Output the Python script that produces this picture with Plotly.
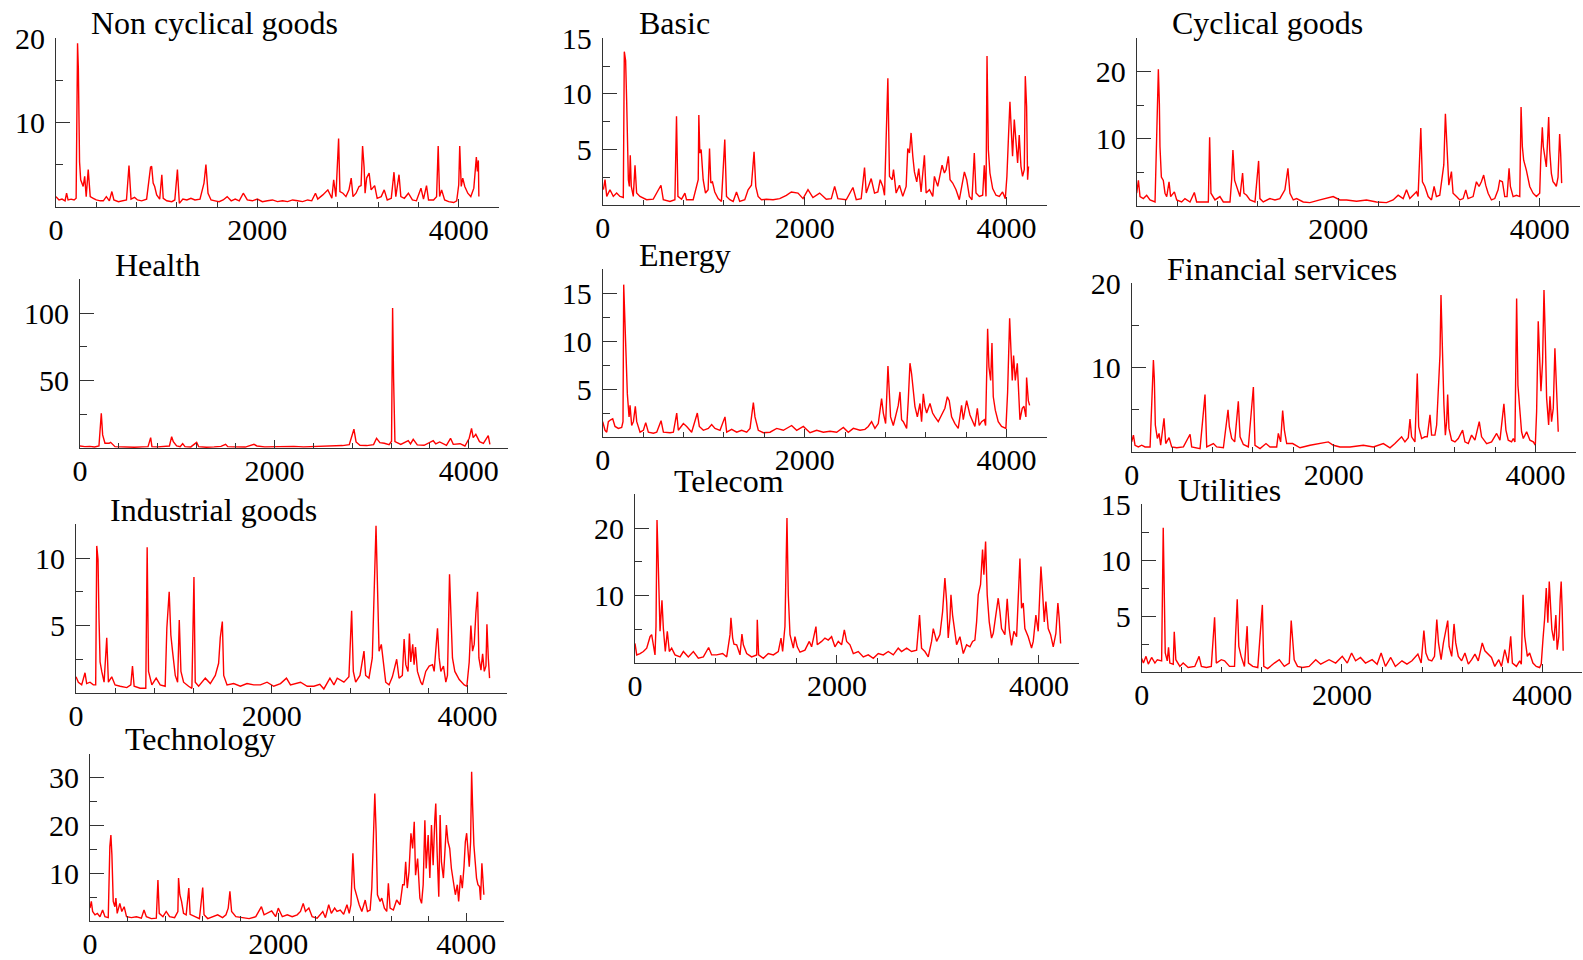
import plotly.graph_objects as go

# ---------------- data (index, value) ----------------
titles = ["Non cyclical goods", "Basic", "Cyclical goods", "Health", "Energy",
          "Financial services", "Industrial goods", "Telecom", "Utilities", "Technology"]

noncyc = [(0,1.2),(30,0.8),(60,0.9),(90,0.7),(105,1.6),(120,0.8),(150,0.9),(180,0.8),(200,1.0),(210,12),(214,19.4),(222,16.4),(228,8.3),(234,5.3),(245,3.2),(270,2.4),(285,3.6),(300,1.2),(320,4.4),(340,1.2),(370,1.0),(400,0.8),(440,0.7),(470,0.7),(500,1.2),(530,0.7),(555,1.8),(575,0.8),(620,0.6),(660,0.7),(700,0.8),(725,4.9),(745,0.9),(780,1.1),(810,0.8),(850,0.7),(900,0.9),(939,4.7),(950,4.8),(965,2.8),(980,2.4),(1000,1.4),(1030,0.9),(1051,3.8),(1065,1.0),(1100,0.7),(1150,0.6),(1180,0.8),(1206,4.4),(1225,0.4),(1260,0.9),(1300,0.8),(1340,1.0),(1380,0.8),(1430,0.9),(1470,2.8),(1489,5.0),(1510,1.6),(1540,0.8),(1580,0.7),(1620,0.6),(1660,0.8),(1700,1.2),(1740,0.7),(1780,0.9),(1820,0.7),(1860,1.6),(1900,0.8),(1950,0.7),(2000,0.9),(2050,0.6),(2100,0.7),(2150,0.8),(2200,0.6),(2250,0.7),(2300,0.6),(2350,0.8),(2400,0.7),(2450,0.6),(2500,0.8),(2540,0.7),(2577,1.6),(2600,0.9),(2650,1.4),(2700,2.0),(2740,1.0),(2758,3.2),(2780,1.2),(2807,8.1),(2820,1.8),(2850,1.6),(2880,1.2),(2910,2.0),(2932,3.4),(2950,1.2),(2980,1.6),(3010,2.4),(3030,2.5),(3045,7.2),(3060,4.7),(3070,1.6),(3085,3.4),(3110,4.0),(3130,2.0),(3165,2.5),(3190,1.0),(3230,1.2),(3260,2.0),(3290,0.8),(3330,1.0),(3357,4.1),(3375,1.2),(3407,3.8),(3425,1.2),(3460,1.0),(3500,1.6),(3540,0.8),(3580,0.7),(3625,2.2),(3650,0.9),(3680,2.5),(3700,0.8),(3750,0.8),(3780,1.2),(3796,7.2),(3810,1.2),(3830,2.0),(3860,0.8),(3900,0.6),(3950,0.5),(3980,0.7),(4000,2.6),(4010,7.2),(4025,2.4),(4040,3.4),(4060,2.4),(4090,1.6),(4120,1.2),(4150,2.2),(4175,5.9),(4185,4.2),(4195,5.5),(4200,1.2)]

basic = [(7,1.4),(23,2.3),(40,0.8),(72,1.4),(105,0.8),(138,1.1),(171,0.8),(204,0.7),(214,13.8),(227,13.0),(237,9.5),(244,5.0),(254,2.3),(264,1.7),(273,4.5),(283,1.7),(303,0.8),(320,3.6),(336,1.1),(369,0.8),(435,0.5),(501,0.55),(577,1.8),(600,0.5),(666,0.35),(715,0.5),(731,8.0),(745,0.8),(781,0.55),(814,1.1),(830,0.5),(896,0.5),(946,2.3),(952,8.1),(962,4.7),(975,5.0),(995,2.3),(1018,1.1),(1044,1.4),(1058,5.1),(1071,2.0),(1087,2.1),(1110,1.2),(1143,0.6),(1176,0.35),(1209,5.9),(1226,0.8),(1259,0.5),(1292,0.35),(1325,1.2),(1357,0.35),(1407,0.5),(1440,1.4),(1473,1.8),(1499,4.8),(1516,1.7),(1539,0.8),(1572,0.5),(1621,0.55),(1687,0.5),(1753,0.6),(1819,0.9),(1868,1.2),(1934,1.1),(1984,0.6),(2033,1.4),(2082,0.7),(2148,1.1),(2214,0.55),(2264,0.6),(2297,1.7),(2329,0.6),(2412,0.5),(2478,1.6),(2511,0.5),(2560,0.6),(2593,3.4),(2610,1.1),(2659,2.4),(2692,1.1),(2725,1.2),(2748,2.3),(2774,1.7),(2791,0.9),(2824,11.4),(2840,2.6),(2867,2.3),(2880,3.2),(2906,1.1),(2939,1.8),(2972,0.8),(3005,1.7),(3021,5.1),(3038,4.7),(3054,6.5),(3071,4.4),(3087,3.0),(3110,2.1),(3130,3.3),(3153,1.2),(3186,4.5),(3203,1.1),(3236,1.4),(3269,0.8),(3285,2.6),(3318,1.7),(3361,3.6),(3384,2.9),(3400,3.2),(3423,4.4),(3440,2.3),(3466,2.0),(3499,1.4),(3532,0.5),(3559,1.7),(3582,3.0),(3605,2.3),(3631,0.8),(3657,0.5),(3680,4.7),(3697,1.1),(3730,0.8),(3763,0.9),(3779,3.6),(3796,0.8),(3806,13.4),(3819,5.0),(3835,2.9),(3862,1.5),(3895,0.9),(3928,0.8),(3960,1.2),(3987,0.6),(4003,2.6),(4020,6.5),(4033,9.3),(4046,6.8),(4059,4.4),(4076,7.7),(4092,5.9),(4109,3.8),(4125,6.3),(4142,3.5),(4158,2.6),(4175,3.2),(4185,11.6),(4198,8.9),(4208,2.3),(4217,3.5)]

cyclical = [(0,1.9),(17,3.8),(33,1.4),(66,1.1),(99,1.6),(132,0.9),(182,0.6),(205,15.7),(215,20.3),(225,15.2),(231,8.8),(245,4.3),(264,3.8),(281,1.9),(298,1.4),(321,3.6),(337,1.4),(374,2.1),(397,0.9),(446,0.6),(479,1.1),(529,0.6),(572,2.0),(595,0.6),(661,0.6),(711,0.6),(724,10.2),(737,1.9),(777,0.9),(826,1.4),(860,0.6),(926,0.6),(942,3.8),(955,8.3),(972,3.8),(992,2.9),(1025,1.4),(1051,4.9),(1064,1.9),(1091,1.6),(1124,0.9),(1174,0.6),(1210,6.7),(1223,1.1),(1256,0.6),(1322,1.1),(1372,0.9),(1421,1.1),(1471,2.4),(1501,5.6),(1521,1.9),(1554,0.9),(1587,1.1),(1653,0.6),(1719,0.5),(1818,0.9),(1884,1.1),(1950,1.4),(2017,0.9),(2083,0.9),(2182,0.7),(2281,0.9),(2380,0.6),(2479,0.5),(2545,0.9),(2595,1.6),(2645,1.1),(2678,2.4),(2711,1.1),(2777,2.1),(2793,1.4),(2820,11.6),(2836,3.6),(2860,2.9),(2893,1.4),(2926,0.9),(2952,2.9),(2975,1.4),(3008,1.6),(3035,5.1),(3048,6.1),(3064,13.7),(3081,7.3),(3098,3.1),(3124,5.1),(3140,1.9),(3174,1.4),(3207,0.9),(3240,1.1),(3266,2.4),(3289,1.1),(3339,1.4),(3372,3.6),(3398,2.9),(3421,3.6),(3444,4.6),(3464,3.1),(3488,1.9),(3521,0.9),(3554,1.1),(3587,2.4),(3603,3.8),(3630,3.6),(3653,1.4),(3676,1.4),(3696,5.6),(3709,2.9),(3736,1.4),(3769,1.6),(3802,1.4),(3815,14.7),(3828,8.8),(3841,6.8),(3868,5.3),(3901,2.9),(3934,1.9),(3967,1.4),(3983,1.6),(4000,1.9),(4010,6.8),(4026,11.7),(4036,8.8),(4050,7.3),(4066,5.8),(4089,13.2),(4099,8.3),(4116,4.8),(4132,3.6),(4149,3.3),(4165,2.9),(4182,4.3),(4198,10.7),(4208,7.8),(4218,3.4)]

health = [(0,1.5),(50,1.0),(100,1.2),(150,0.8),(195,1.5),(205,11),(219,25.7),(233,9.7),(257,3.5),(300,3.5),(315,4.2),(360,1.0),(420,0.8),(500,1.0),(560,0.6),(640,0.8),(700,1.0),(727,7.7),(740,1.0),(800,0.8),(860,1.2),(920,1.5),(943,8.4),(960,4.7),(994,1.5),(1030,1.0),(1056,3.2),(1080,1.0),(1140,0.8),(1200,4.2),(1220,1.0),(1300,0.6),(1380,0.8),(1450,1.2),(1498,2.7),(1520,1.0),(1600,0.8),(1700,0.7),(1790,2.7),(1820,1.5),(1900,0.8),(2000,1.0),(2100,0.7),(2200,1.2),(2300,0.8),(2400,1.0),(2500,0.9),(2600,1.5),(2700,1.8),(2770,2.5),(2795,7.9),(2818,13.9),(2840,4.5),(2880,2.0),(2950,1.8),(3020,2.5),(3051,7.2),(3085,4.0),(3130,3.5),(3180,2.5),(3205,5.0),(3216,103.7),(3226,51.7),(3240,4.7),(3300,2.7),(3377,5.4),(3400,3.0),(3428,6.4),(3470,2.3),(3540,2.0),(3634,5.4),(3660,3.0),(3700,4.5),(3770,2.0),(3812,7.2),(3840,2.7),(3910,3.2),(3960,1.5),(4004,7.2),(4028,14.6),(4045,7.7),(4072,10.1),(4110,4.7),(4150,3.5),(4200,9.2),(4217,2.7)]

energy = [(0,1.6),(23,0.7),(40,0.5),(56,1.6),(79,1.8),(99,1.9),(122,1.1),(155,0.9),(188,1.0),(201,1.6),(208,15.9),(221,11.9),(231,9.1),(244,4.5),(261,2.1),(271,3.3),(287,1.2),(304,1.6),(323,3.2),(337,1.6),(370,0.5),(403,0.7),(426,1.5),(452,0.5),(502,0.4),(535,0.5),(578,1.7),(601,0.5),(667,0.45),(700,0.5),(733,2.5),(749,0.7),(799,1.4),(832,1.1),(881,0.5),(937,2.5),(957,1.1),(997,0.7),(1046,0.9),(1079,1.3),(1112,0.9),(1162,0.7),(1211,2.1),(1228,0.5),(1277,0.8),(1327,0.5),(1376,0.7),(1426,0.5),(1459,0.9),(1492,3.6),(1508,2.1),(1541,0.7),(1591,0.45),(1657,0.5),(1723,0.9),(1789,0.7),(1871,1.2),(1921,0.7),(1987,1.1),(2053,0.45),(2119,0.7),(2185,0.5),(2251,0.6),(2317,0.5),(2383,1.0),(2432,0.5),(2482,0.9),(2548,0.7),(2597,0.8),(2630,1.1),(2663,1.6),(2696,0.9),(2729,1.4),(2746,2.5),(2762,4.0),(2779,2.5),(2802,1.4),(2825,7.4),(2838,3.8),(2851,2.1),(2878,1.2),(2904,2.5),(2927,3.3),(2944,4.7),(2960,1.8),(2977,1.6),(3010,0.9),(3026,3.8),(3043,7.7),(3059,6.6),(3076,4.5),(3092,3.2),(3116,2.1),(3142,3.5),(3158,1.6),(3175,4.5),(3191,3.2),(3208,2.5),(3241,3.5),(3267,2.5),(3290,2.1),(3323,1.6),(3356,2.3),(3389,3.0),(3413,4.2),(3432,3.8),(3455,2.1),(3488,1.4),(3521,0.9),(3554,3.3),(3571,1.8),(3604,3.8),(3637,2.3),(3670,1.4),(3686,1.1),(3710,3.0),(3729,1.2),(3752,1.6),(3779,1.8),(3792,1.2),(3812,11.3),(3825,7.3),(3842,5.9),(3855,9.8),(3868,4.2),(3888,2.8),(3917,1.6),(3950,1.1),(3993,0.9),(4010,4.7),(4023,10.1),(4030,12.4),(4043,9.1),(4056,5.9),(4069,8.5),(4086,5.9),(4106,7.7),(4122,3.8),(4132,1.8),(4155,3.0),(4172,3.2),(4191,2.1),(4198,6.2),(4215,3.8),(4228,3.3)]

financial = [(0,1.2),(17,2.0),(33,0.8),(66,0.6),(99,0.8),(132,0.6),(182,0.6),(215,10.9),(224,8.7),(234,3.2),(254,1.6),(271,2.2),(287,0.8),(320,4.0),(337,1.0),(370,1.7),(396,0.6),(446,0.5),(512,0.6),(578,2.1),(594,0.6),(677,0.4),(726,6.8),(743,0.6),(809,1.0),(842,0.6),(908,0.5),(941,4.0),(954,5.0),(967,3.0),(990,1.6),(1020,1.2),(1056,6.0),(1073,1.8),(1106,0.9),(1155,0.6),(1205,7.7),(1221,0.8),(1271,0.4),(1330,1.0),(1370,0.6),(1436,0.6),(1452,2.2),(1475,1.2),(1495,4.9),(1512,2.6),(1535,1.0),(1594,1.0),(1667,0.5),(1766,0.8),(1865,1.0),(1947,1.2),(1997,0.8),(2063,0.6),(2162,0.6),(2294,0.8),(2393,0.6),(2492,1.0),(2558,0.5),(2607,1.0),(2673,1.8),(2706,1.2),(2739,1.7),(2756,3.9),(2772,1.8),(2805,1.2),(2828,9.3),(2842,3.0),(2871,1.6),(2904,1.8),(2927,1.8),(2954,4.4),(2970,2.0),(3003,2.0),(3020,3.2),(3036,7.5),(3053,11.5),(3063,18.6),(3076,11.5),(3092,5.6),(3106,2.0),(3119,3.6),(3129,6.8),(3142,2.8),(3168,1.4),(3201,1.2),(3234,1.6),(3277,2.6),(3300,1.2),(3333,1.0),(3366,2.0),(3399,1.4),(3442,3.6),(3465,1.8),(3515,1.0),(3564,1.2),(3614,2.2),(3647,1.4),(3686,5.7),(3706,2.6),(3729,1.4),(3762,1.2),(3779,1.6),(3795,1.2),(3812,18.2),(3825,7.9),(3845,4.8),(3861,2.4),(3878,1.6),(3911,2.4),(3944,1.4),(3977,1.2),(3997,0.8),(4010,4.8),(4026,15.5),(4040,11.5),(4053,7.2),(4069,10.7),(4083,19.2),(4096,13.5),(4109,6.4),(4129,3.2),(4142,6.6),(4158,3.6),(4175,5.2),(4191,12.3),(4201,8.7),(4215,5.2),(4224,2.4)]

industrial = [(0,1.2),(24,0.8),(58,0.6),(92,1.5),(109,0.7),(143,0.8),(177,0.6),(201,0.6),(212,10.9),(225,9.9),(235,5.5),(246,2.3),(263,1.6),(287,0.8),(314,4.1),(331,0.8),(365,1.2),(399,0.6),(451,0.5),(519,0.4),(560,0.6),(577,2.0),(594,0.5),(655,0.35),(713,0.35),(727,10.8),(741,1.6),(775,0.6),(819,1.1),(860,0.6),(911,0.5),(928,4.8),(952,7.5),(969,4.3),(986,3.1),(1014,1.3),(1038,0.8),(1055,5.4),(1072,1.6),(1099,0.8),(1150,0.5),(1184,0.35),(1205,8.6),(1218,0.8),(1253,0.5),(1321,1.1),(1372,0.7),(1423,1.3),(1457,2.2),(1474,4.1),(1495,5.3),(1509,1.3),(1543,0.6),(1611,0.7),(1679,0.5),(1747,0.7),(1816,0.6),(1884,0.6),(1952,0.8),(2020,0.5),(2089,0.7),(2150,1.1),(2191,0.6),(2294,0.8),(2362,0.5),(2430,0.5),(2491,0.65),(2532,0.3),(2594,1.1),(2635,0.6),(2669,1.1),(2737,0.8),(2788,1.2),(2816,6.1),(2833,1.6),(2857,0.8),(2901,1.3),(2942,3.1),(2959,1.3),(2993,1.1),(3027,2.6),(3044,6.9),(3065,12.4),(3078,8.5),(3096,3.1),(3119,3.6),(3140,2.3),(3164,0.8),(3198,0.6),(3232,1.2),(3276,2.5),(3300,1.1),(3334,1.3),(3352,4.0),(3369,2.1),(3392,1.6),(3406,4.4),(3420,2.3),(3440,3.6),(3454,2.1),(3468,3.4),(3488,1.6),(3522,0.8),(3539,0.6),(3573,1.6),(3608,2.0),(3642,2.1),(3659,1.6),(3693,4.8),(3710,2.6),(3727,1.6),(3754,2.0),(3778,0.8),(3795,1.3),(3816,8.8),(3829,5.5),(3846,2.6),(3870,1.6),(3915,1.0),(3966,0.6),(3993,0.5),(4017,2.3),(4034,5.0),(4051,3.1),(4068,3.6),(4085,5.9),(4102,7.5),(4116,2.6),(4137,1.7),(4154,2.9),(4171,1.6),(4188,2.0),(4198,5.1),(4212,2.6),(4225,1.1)]

telecom = [(0,2.9),(17,1.2),(50,1.4),(83,1.7),(116,2.2),(149,3.9),(165,4.2),(182,2.7),(198,1.2),(208,5.4),(218,21.2),(228,16.0),(238,9.1),(248,4.7),(267,9.3),(281,5.1),(300,1.7),(320,4.7),(340,1.7),(363,2.2),(396,1.2),(446,0.9),(479,1.7),(528,0.9),(578,1.7),(627,0.7),(677,0.9),(729,2.3),(759,1.2),(809,1.2),(868,1.4),(908,0.9),(941,4.2),(950,6.7),(967,3.7),(980,2.8),(1007,2.7),(1040,1.2),(1059,4.3),(1073,2.7),(1106,1.4),(1155,0.9),(1205,1.2),(1211,6.4),(1224,1.2),(1271,0.7),(1320,1.4),(1370,1.2),(1419,1.7),(1446,3.7),(1462,1.7),(1485,5.4),(1505,21.5),(1518,10.1),(1535,4.2),(1568,2.2),(1584,3.9),(1607,2.4),(1634,1.6),(1683,1.9),(1726,3.2),(1749,2.4),(1792,5.4),(1805,2.7),(1848,3.2),(1881,3.7),(1914,3.4),(1947,3.9),(1980,2.4),(2013,3.2),(2046,2.7),(2073,4.9),(2096,3.2),(2129,2.7),(2162,1.4),(2211,1.7),(2261,0.9),(2310,1.2),(2360,0.7),(2409,1.4),(2459,1.2),(2508,1.7),(2558,1.2),(2607,2.2),(2640,1.7),(2690,2.2),(2739,1.7),(2789,1.9),(2818,7.1),(2838,2.2),(2871,1.7),(2904,0.9),(2937,3.2),(2954,5.1),(2987,3.2),(3020,4.2),(3046,7.6),(3069,12.6),(3086,9.1),(3102,3.7),(3119,6.6),(3129,10.1),(3145,7.1),(3168,4.2),(3185,2.7),(3218,3.9),(3251,1.4),(3284,2.7),(3317,2.4),(3343,3.2),(3366,3.4),(3383,6.1),(3399,10.1),(3422,11.6),(3442,16.8),(3455,13.1),(3472,18.0),(3488,10.1),(3508,6.1),(3531,3.7),(3548,4.4),(3581,7.9),(3597,9.6),(3614,7.6),(3630,5.1),(3663,4.2),(3686,9.5),(3706,5.1),(3729,2.6),(3752,4.7),(3779,3.9),(3812,15.5),(3828,8.1),(3845,8.9),(3861,5.1),(3894,3.9),(3927,2.2),(3944,3.2),(3970,7.1),(3993,4.7),(4020,14.3),(4036,10.6),(4053,6.1),(4069,9.1),(4092,5.1),(4116,4.2),(4142,2.4),(4168,4.4),(4188,8.9),(4201,6.6),(4215,2.9)]

utilities = [(0,1.2),(17,0.8),(43,1.4),(66,0.7),(99,1.3),(132,0.8),(156,1.1),(199,1.0),(215,12.9),(225,6.5),(235,1.7),(255,1.0),(268,2.2),(281,0.8),(315,0.7),(325,3.6),(341,1.1),(381,0.5),(414,0.8),(464,0.4),(530,0.5),(573,1.4),(596,0.5),(646,0.4),(695,0.5),(728,4.9),(745,0.8),(795,1.1),(828,1.0),(877,0.5),(927,0.5),(937,3.1),(954,6.5),(970,2.3),(993,1.4),(1026,0.5),(1053,4.1),(1066,0.8),(1109,0.5),(1159,0.4),(1205,6.0),(1219,0.5),(1258,0.3),(1325,0.8),(1374,1.1),(1424,0.5),(1474,0.8),(1493,4.6),(1507,2.6),(1523,1.1),(1556,0.5),(1606,0.4),(1672,0.5),(1738,1.1),(1788,0.7),(1871,1.1),(1937,0.8),(2003,1.4),(2053,0.8),(2096,1.7),(2136,1.0),(2185,1.3),(2235,0.8),(2301,1.1),(2351,0.7),(2391,1.7),(2434,0.5),(2487,1.3),(2533,0.5),(2599,1.0),(2649,0.7),(2699,1.0),(2758,1.6),(2791,0.8),(2818,3.7),(2838,1.7),(2864,1.1),(2897,1.0),(2924,1.4),(2947,4.7),(2964,2.6),(2990,1.1),(3013,2.6),(3036,3.8),(3056,4.6),(3070,2.3),(3096,1.4),(3119,4.3),(3136,2.6),(3162,1.4),(3195,1.0),(3228,1.7),(3262,0.7),(3295,1.1),(3328,1.6),(3361,1.0),(3401,2.6),(3427,1.9),(3460,1.6),(3493,1.3),(3526,0.5),(3566,1.1),(3593,0.5),(3626,2.0),(3659,0.8),(3685,3.2),(3702,0.8),(3742,0.5),(3775,1.0),(3791,0.7),(3808,6.9),(3825,3.2),(3851,1.4),(3874,1.7),(3907,0.8),(3940,0.5),(3974,0.4),(3990,0.7),(4007,2.9),(4023,4.7),(4040,7.5),(4056,4.4),(4070,8.1),(4083,5.6),(4096,3.8),(4116,2.8),(4136,5.1),(4149,2.0),(4166,3.2),(4179,6.5),(4189,8.1),(4199,5.6),(4209,1.9)]

technology = [(0,2.7),(14,4.1),(28,2.0),(53,1.3),(78,1.6),(106,0.9),(134,2.3),(159,0.9),(194,0.7),(211,15.6),(222,18.0),(233,13.8),(247,4.1),(264,3.0),(275,4.8),(289,1.6),(317,3.7),(338,2.0),(363,3.0),(388,0.9),(440,0.7),(493,0.9),(546,0.6),(574,2.3),(599,0.9),(652,0.5),(705,0.6),(722,8.6),(736,1.6),(775,0.9),(810,2.0),(846,0.9),(899,0.7),(934,2.0),(941,9.0),(955,5.5),(973,4.1),(994,1.6),(1022,1.3),(1050,6.9),(1064,1.4),(1110,0.9),(1163,0.5),(1198,7.0),(1212,1.3),(1251,0.5),(1304,0.9),(1357,1.3),(1409,0.7),(1445,1.3),(1469,2.7),(1487,6.2),(1505,2.0),(1550,0.9),(1621,0.7),(1691,0.5),(1762,0.9),(1822,3.0),(1850,1.3),(1885,1.6),(1931,2.1),(1973,0.9),(2001,2.7),(2044,0.9),(2097,1.3),(2149,0.9),(2202,1.3),(2237,2.0),(2266,3.7),(2290,2.0),(2326,2.7),(2361,0.9),(2414,0.6),(2474,2.0),(2502,0.7),(2537,3.4),(2565,1.6),(2600,2.7),(2625,2.0),(2660,2.3),(2696,1.4),(2731,3.4),(2755,1.6),(2773,3.4),(2794,14.2),(2812,6.9),(2837,4.8),(2861,3.4),(2889,2.0),(2925,4.4),(2949,2.0),(2977,2.3),(2995,6.9),(3016,18.7),(3027,26.7),(3041,18.7),(3055,5.5),(3083,4.1),(3101,4.8),(3129,2.7),(3154,2.0),(3171,7.9),(3189,2.7),(3224,2.3),(3259,4.4),(3295,3.4),(3323,7.6),(3340,7.6),(3355,12.4),(3372,6.9),(3390,10.3),(3411,18.4),(3429,15.2),(3446,20.8),(3460,9.6),(3482,13.1),(3506,4.8),(3524,3.7),(3541,7.6),(3559,21.1),(3573,11.0),(3594,18.0),(3612,9.0),(3629,20.1),(3647,11.7),(3665,21.5),(3675,24.6),(3689,14.5),(3707,5.1),(3721,22.2),(3735,12.4),(3756,9.0),(3770,13.8),(3788,20.1),(3805,16.6),(3823,15.2),(3841,11.0),(3862,8.3),(3883,5.5),(3904,7.6),(3918,4.1),(3939,9.6),(3957,6.9),(3975,11.4),(3989,16.6),(4003,18.4),(4017,14.5),(4031,11.4),(4045,16.6),(4056,31.3),(4066,24.3),(4080,15.9),(4094,12.4),(4108,9.0),(4123,7.6),(4140,7.2),(4151,4.4),(4165,12.1),(4175,9.0),(4186,5.5)]

series = [noncyc, basic, cyclical, health, energy, financial, industrial, telecom, utilities, technology]
y_max = [20, 15, 25, 125, 17.5, 20, 12.5, 25, 15, 35]
y_major = [10, 5, 10, 50, 5, 10, 5, 10, 5, 10]
x_max = 4400
x_major = 2000
x_minor = 400

# ---------------- layout geometry (pixels) ----------------
W, H = 1583, 960
# left, right, top, bottom of each panel's axes
boxes = [
    (56, 499, 38.3, 206.7),
    (602.7, 1047, 38.3, 205.3),
    (1136.7, 1580, 37.7, 206),
    (80, 507.7, 279.3, 448),
    (602.7, 1047, 269.3, 437),
    (1131.7, 1576, 283.3, 452),
    (76, 506.7, 524.3, 693),
    (635, 1079.3, 494.3, 663),
    (1141.7, 1582.3, 504.3, 672),
    (90, 504, 754, 921),
]
title_pos = [
    (89, 22.8), (636.7, 22.8), (1170, 23), (113.3, 264.5), (636.7, 255),
    (1165, 268.7), (108.3, 509.5), (671.7, 480.5), (1176, 490), (123.3, 739),
]

FONT = "Liberation Serif"
AXC = "#333333"

fig = go.Figure()
layout = dict(width=W, height=H,
              margin=dict(l=0, r=0, t=0, b=0, pad=0, autoexpand=False),
              paper_bgcolor="white", plot_bgcolor="white", showlegend=False,
              annotations=[])

for i, (data, ttl) in enumerate(zip(series, titles)):
    n = i + 1
    xs = [p[0] for p in data]
    ys = [p[1] for p in data]
    fig.add_trace(go.Scatter(x=xs, y=ys, mode="lines",
                             line=dict(color="#ff0000", width=1.4),
                             xaxis=f"x{n}", yaxis=f"y{n}", hoverinfo="skip"))
    l, r, t, b = boxes[i]
    layout[f"xaxis{n}"] = dict(
        domain=[l / W, r / W], range=[0, x_max], anchor=f"y{n}",
        tickmode="linear", tick0=0, dtick=x_major,
        ticks="inside", ticklen=8, tickwidth=1, tickcolor=AXC,
        minor=dict(tickmode="linear", tick0=0, dtick=x_minor, ticks="inside",
                   ticklen=5, tickwidth=1, tickcolor=AXC, showgrid=False),
        showline=True, linecolor=AXC, linewidth=1, showgrid=False, zeroline=False,
        automargin=False,
        tickfont=dict(family=FONT, size=30, color="black"),
        ticklabelstandoff=-4, fixedrange=True)
    layout[f"yaxis{n}"] = dict(
        domain=[1 - b / H, 1 - t / H], range=[0, y_max[i]], anchor=f"x{n}",
        tickmode="linear", tick0=0, dtick=y_major[i],
        ticks="inside", ticklen=14, tickwidth=1, tickcolor=AXC,
        minor=dict(tickmode="linear", tick0=0, dtick=y_major[i] / 2, ticks="inside",
                   ticklen=7, tickwidth=1, tickcolor=AXC, showgrid=False),
        showline=True, linecolor=AXC, linewidth=1, showgrid=False, zeroline=False,
        automargin=False,
        labelalias={"0": ""},
        tickfont=dict(family=FONT, size=30, color="black"),
        ticklabelstandoff=4, fixedrange=True)
    tx, ty = title_pos[i]
    layout["annotations"].append(dict(
        text=ttl, xref="paper", yref="paper", x=tx / W, y=1 - ty / H,
        xanchor="left", yanchor="middle", showarrow=False,
        font=dict(family=FONT, size=32, color="black")))

fig.update_layout(**layout)
fig.write_html("out.html", config={"displayModeBar": False},
               post_script="document.body.style.margin='0px';document.body.style.overflow='hidden';")
